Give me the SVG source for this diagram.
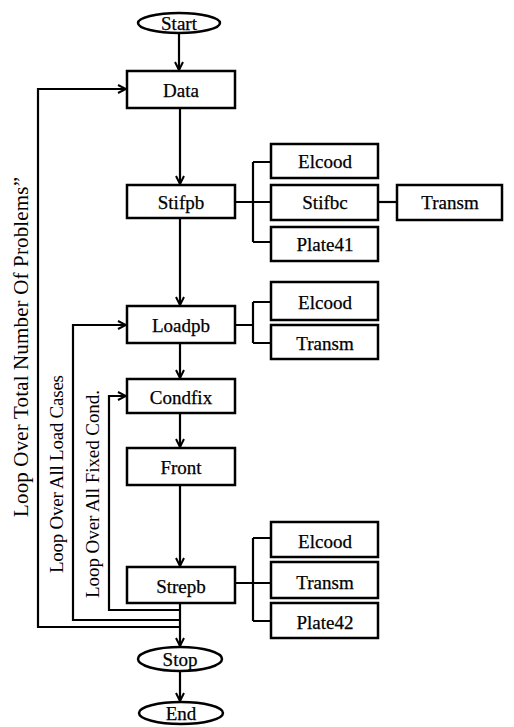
<svg xmlns="http://www.w3.org/2000/svg" width="514" height="727" viewBox="0 0 514 727">
<style>
.box{fill:#fff;stroke:#000;stroke-width:2.5}
.t{font-family:"Liberation Serif","Times New Roman",serif;font-size:19px;fill:#000;stroke:#000;stroke-width:0.25;text-anchor:middle;dominant-baseline:central}
.lbl{font-family:"Liberation Serif","Times New Roman",serif;font-size:19px;fill:#000;text-anchor:middle}
.c{fill:none;stroke:#000;stroke-width:2.2}
.a{marker-end:url(#ah)}
</style>
<defs>
<marker id="ah" viewBox="0 0 10 10" refX="9" refY="5" markerWidth="10" markerHeight="10" markerUnits="userSpaceOnUse" orient="auto">
<path d="M1,1 L9,5 L1,9" fill="none" stroke="#000" stroke-width="2"/>
</marker>
</defs>
<g id="connectors">
<path class="c a" d="M179,33 V70"/>
<path class="c a" d="M180,108 V184"/>
<path class="c a" d="M180,218 V305"/>
<path class="c a" d="M180,343 V378"/>
<path class="c a" d="M180,413 V447"/>
<path class="c a" d="M180,485 V566"/>
<path class="c a" d="M180,603 V646"/>
<path class="c a" d="M180,672 V701"/>
<path class="c a" d="M180,627 H38 V89 H126"/>
<path class="c a" d="M180,620 H73 V325 H126"/>
<path class="c a" d="M180,610 H109 V396 H126"/>
<path class="c" d="M235,202 H271 M253,162 V242 M253,162 H271 M253,242 H271"/>
<path class="c" d="M378,202 H397"/>
<path class="c" d="M235,325 H253 M253,302 V343 M253,302 H271 M253,343 H271"/>
<path class="c" d="M235,583 H271 M253,538 V621 M253,538 H271 M253,621 H271"/>
</g>
<g id="loop1"><text class="lbl" style="font-size:21px" transform="translate(28,347) rotate(-90)" textLength="340" lengthAdjust="spacing">Loop Over Total Number Of Problems”</text></g>
<g id="loop2"><text class="lbl" transform="translate(63,474) rotate(-90)" textLength="198" lengthAdjust="spacing">Loop Over All Load Cases</text></g>
<g id="loop3"><text class="lbl" transform="translate(99,494) rotate(-90)" textLength="208" lengthAdjust="spacing">Loop Over All Fixed Cond.</text></g>
<g id="start"><ellipse class="box" cx="179" cy="23" rx="41" ry="10"/><text class="t" x="179" y="23">Start</text></g>
<g id="data"><rect class="box" x="127" y="71" width="108" height="37"/><text class="t" x="181" y="90">Data</text></g>
<g id="stifpb"><rect class="box" x="127" y="185" width="108" height="33"/><text class="t" x="181" y="202">Stifpb</text></g>
<g id="elcood1"><rect class="box" x="271" y="144" width="107" height="34"/><text class="t" x="325" y="161">Elcood</text></g>
<g id="stifbc"><rect class="box" x="271" y="185" width="107" height="35"/><text class="t" x="325" y="202">Stifbc</text></g>
<g id="transm1"><rect class="box" x="397" y="185" width="105" height="35"/><text class="t" x="450" y="202">Transm</text></g>
<g id="plate41"><rect class="box" x="271" y="227" width="107" height="34"/><text class="t" x="325" y="244">Plate41</text></g>
<g id="loadpb"><rect class="box" x="127" y="306" width="108" height="37"/><text class="t" x="181" y="325">Loadpb</text></g>
<g id="elcood2"><rect class="box" x="271" y="282" width="107" height="38"/><text class="t" x="325" y="302">Elcood</text></g>
<g id="transm2"><rect class="box" x="271" y="325" width="107" height="34"/><text class="t" x="325" y="343">Transm</text></g>
<g id="condfix"><rect class="box" x="127" y="379" width="108" height="34"/><text class="t" x="181" y="397">Condfix</text></g>
<g id="front"><rect class="box" x="127" y="448" width="108" height="37"/><text class="t" x="181" y="467">Front</text></g>
<g id="strepb"><rect class="box" x="127" y="567" width="108" height="36"/><text class="t" x="181" y="586">Strepb</text></g>
<g id="elcood3"><rect class="box" x="271" y="522" width="107" height="35"/><text class="t" x="325" y="541">Elcood</text></g>
<g id="transm3"><rect class="box" x="271" y="562" width="107" height="36"/><text class="t" x="325" y="582">Transm</text></g>
<g id="plate42"><rect class="box" x="271" y="603" width="107" height="35"/><text class="t" x="325" y="622">Plate42</text></g>
<g id="stop"><ellipse class="box" cx="180" cy="659" rx="42" ry="12"/><text class="t" x="180" y="659">Stop</text></g>
<g id="end"><ellipse class="box" cx="181" cy="713" rx="42" ry="11"/><text class="t" x="181" y="713">End</text></g>
</svg>
